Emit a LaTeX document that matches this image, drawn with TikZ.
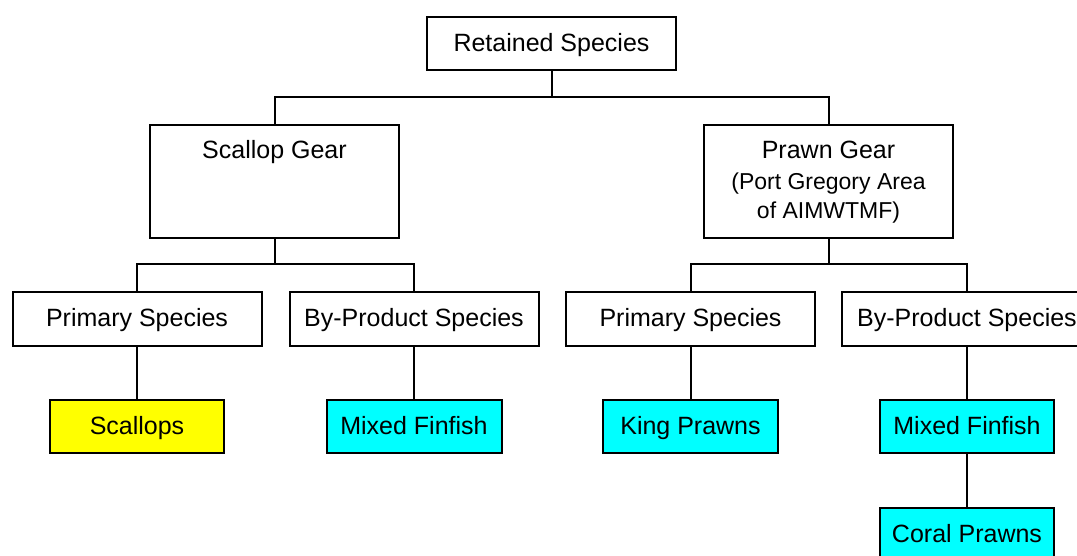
\documentclass[tikz,border=0pt]{standalone}
\usepackage{fontspec}
\setmainfont{Liberation Sans}
\definecolor{boxyellow}{HTML}{FFFF00}
\definecolor{boxcyan}{HTML}{00FFFF}
\begin{document}
\begin{tikzpicture}[x=1pt,y=-1pt,
  box/.style={draw=black,line width=2pt,rectangle,inner sep=0pt,minimum height=53pt,minimum width=249pt,text height=20pt,text depth=5pt,font=\fontsize{25}{30}\selectfont},
  leaf/.style={box,minimum width=174pt},
  link/.style={draw=black,line width=2pt},
  lbl/.style={anchor=base,inner sep=0pt,font=\fontsize{25}{30}\selectfont},
  sublbl/.style={anchor=base,inner sep=0pt,font=\fontsize{23}{28}\selectfont}]
\clip (0,0) rectangle (1077,555);
\fill[white] (0,0) rectangle (1077,555);
% nodes
\node[box] (rs) at (551.5,43.5) {Retained Species};
\node[box,minimum height=113pt] (sg) at (274.5,181.5) {};
\node[box,minimum height=113pt] (pg) at (828.5,181.5) {};
\node[lbl] (sgt) at (274.5,158) {Scallop Gear};
\node[lbl] (pgt) at (828.5,158) {Prawn Gear};
\node[sublbl] (pgs1) at (828.5,189) {(Port Gregory Area};
\node[sublbl] (pgs2) at (828.5,218) {of AIMWTMF)};
\node[box,minimum height=54pt] (ps1) at (137,319) {Primary Species};
\node[box,minimum height=54pt] (bp1) at (414,319) {By-Product Species};
\node[box,minimum height=54pt] (ps2) at (690.5,319) {Primary Species};
\node[box,minimum height=54pt,minimum width=250pt] (bp2) at (967,319) {By-Product Species};
\node[leaf,fill=boxyellow] (sc) at (137,426.5) {Scallops};
\node[leaf,fill=boxcyan,minimum width=175pt] (mf1) at (414,426.5) {Mixed Finfish};
\node[leaf,fill=boxcyan,minimum width=175pt] (kp) at (690.5,426.5) {King Prawns};
\node[leaf,fill=boxcyan] (mf2) at (967,426.5) {Mixed Finfish};
\node[leaf,fill=boxcyan] (cp) at (967,534.5) {Coral Prawns};
% junctions
\coordinate (j1) at (551.5,97);
\coordinate (j2) at (274.5,264);
\coordinate (j3) at (828.5,264);
% connectors
\draw[link] (rs.south) -- (j1);
\draw[link] (sg.north) |- (j1) -| (pg.north);
\draw[link] (sg.south) -- (j2);
\draw[link] (ps1.north) |- (j2) -| (bp1.north);
\draw[link] (pg.south) -- (j3);
\draw[link] (ps2.north) |- (j3) -| (bp2.north);
\draw[link] (ps1.south) -- (sc.north);
\draw[link] (bp1.south) -- (mf1.north);
\draw[link] (ps2.south) -- (kp.north);
\draw[link] (bp2.south) -- (mf2.north);
\draw[link] (mf2.south) -- (cp.north);
\end{tikzpicture}
\end{document}
